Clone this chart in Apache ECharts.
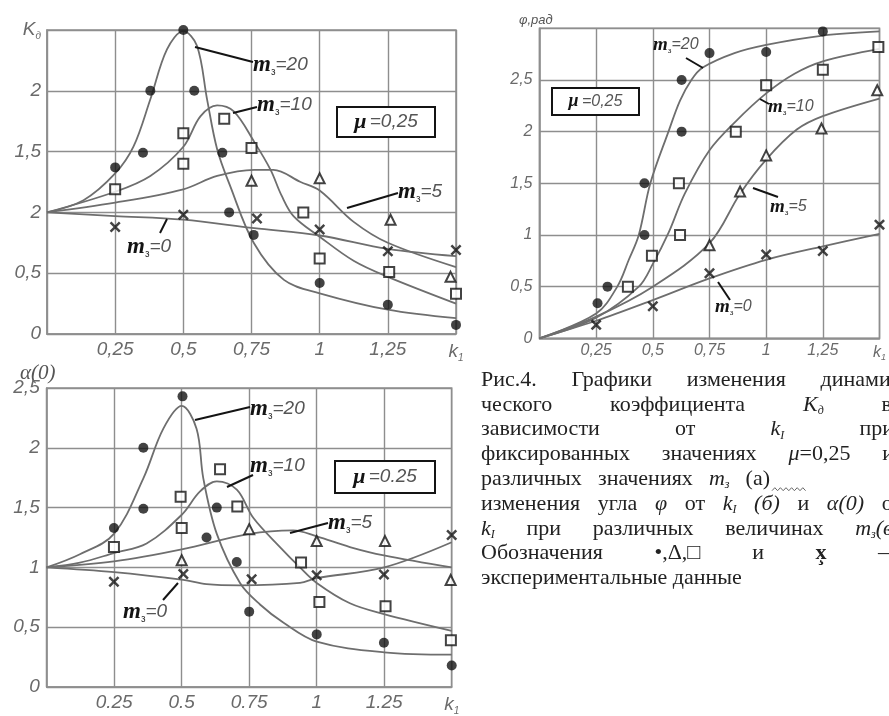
<!DOCTYPE html>
<html><head><meta charset="utf-8">
<script src="https://cdn.jsdelivr.net/npm/echarts@6.0.0/dist/echarts.min.js"></script>
<style>html,body{margin:0;padding:0;background:#fff}#c{width:889px;height:716px}</style>
</head><body><div id="c"></div>
<script>
// ---------- DATA ----------
// (a) K_d vs k1
const a_c20 = [[0,1],[0.134,1.10],[0.25,1.32],[0.317,1.54],[0.379,1.93],[0.44,2.34],[0.5,2.49],[0.55,2.37],[0.587,1.93],[0.624,1.52],[0.673,1.21],[0.758,0.75],[0.869,0.445],[1.0,0.335],[1.25,0.2],[1.5,0.13]];
const a_c10 = [[0,1],[0.25,1.17],[0.379,1.30],[0.5,1.54],[0.5625,1.79],[0.624,1.88],[0.685,1.83],[0.76,1.58],[0.82,1.35],[0.86,1.14],[0.904,0.97],[1.0,0.80],[1.126,0.60],[1.25,0.47],[1.5,0.25]];
const a_c5  = [[0,1],[0.25,1.08],[0.5,1.19],[0.624,1.30],[0.76,1.35],[0.83,1.35],[0.93,1.25],[1.0,1.18],[1.126,0.92],[1.25,0.75],[1.5,0.55]];
const a_c0  = [[0,1],[0.25,0.97],[0.5,0.94],[0.76,0.87],[1.0,0.81],[1.25,0.70],[1.5,0.64]];
const a_p20 = [[0.25,1.37],[0.352,1.49],[0.379,2.0],[0.5,2.5],[0.54,2.0],[0.643,1.49],[0.668,1.0],[0.758,0.815],[1.0,0.42],[1.25,0.24],[1.5,0.075]];
const a_p10 = [[0.25,1.19],[0.5,1.40],[0.5,1.65],[0.65,1.77],[0.75,1.53],[0.94,1.0],[1.0,0.62],[1.255,0.51],[1.5,0.33]];
const a_p5  = [[0.75,1.26],[1.0,1.28],[1.26,0.94],[1.48,0.47]];
const a_p0  = [[0.25,0.88],[0.5,0.98],[0.77,0.95],[1.0,0.86],[1.25,0.68],[1.5,0.69]];
// (b) phi vs k1
const b_c20 = [[0,0],[0.25,0.24],[0.343,0.5],[0.394,0.76],[0.438,1.0],[0.489,1.5],[0.569,2.0],[0.62,2.3],[0.67,2.5],[0.72,2.62],[0.86,2.76],[1.0,2.84],[1.25,2.93],[1.5,2.97]];
const b_c10 = [[0,0],[0.25,0.2],[0.438,0.5],[0.5,0.72],[0.569,1.02],[0.641,1.4],[0.75,1.82],[0.866,2.1],[1.0,2.37],[1.125,2.56],[1.25,2.68],[1.5,2.80]];
const b_c5  = [[0,0],[0.25,0.21],[0.5,0.5],[0.75,0.92],[0.885,1.40],[1.0,1.73],[1.135,2.02],[1.25,2.15],[1.5,2.32]];
const b_c0  = [[0,0],[0.25,0.17],[0.5,0.37],[0.75,0.58],[1.0,0.76],[1.25,0.89],[1.5,1.01]];
const b_p20 = [[0.256,0.34],[0.30,0.50],[0.463,1.0],[0.463,1.5],[0.627,2.0],[0.627,2.5],[0.75,2.76],[1.0,2.77],[1.25,2.97]];
const b_p10 = [[0.39,0.5],[0.496,0.80],[0.62,1.0],[0.615,1.5],[0.866,2.0],[1.0,2.45],[1.25,2.60],[1.495,2.82]];
const b_p5  = [[0.75,0.90],[0.885,1.42],[1.0,1.77],[1.244,2.03],[1.49,2.40]];
const b_p0  = [[0.25,0.13],[0.5,0.31],[0.75,0.63],[1.0,0.81],[1.25,0.845],[1.5,1.10]];
// (c) alpha(0) vs k1
const c_c20 = [[0,1],[0.123,1.11],[0.249,1.28],[0.358,1.745],[0.432,2.16],[0.5,2.35],[0.555,2.16],[0.58,1.745],[0.63,1.28],[0.716,0.87],[0.79,0.69],[0.876,0.54],[1.0,0.38],[1.25,0.29],[1.5,0.27]];
const c_c10 = [[0,1],[0.123,1.04],[0.249,1.12],[0.37,1.2],[0.5,1.44],[0.568,1.635],[0.63,1.72],[0.704,1.65],[0.765,1.415],[0.864,1.17],[0.938,1.0],[1.0,0.87],[1.123,0.70],[1.249,0.61],[1.5,0.47]];
const c_c5  = [[0,1],[0.249,1.05],[0.5,1.15],[0.75,1.28],[0.913,1.31],[1.0,1.26],[1.123,1.17],[1.249,1.10],[1.5,1.0]];
const c_c0  = [[0,1],[0.25,0.96],[0.506,0.895],[0.592,0.86],[0.716,0.85],[0.938,0.87],[1.0,0.91],[1.25,1.0],[1.5,1.21]];
const c_p20 = [[0.249,1.33],[0.358,1.49],[0.358,2.0],[0.503,2.43],[0.592,1.25],[0.63,1.50],[0.704,1.045],[0.75,0.63],[1.0,0.44],[1.249,0.37],[1.5,0.18]];
const c_p10 = [[0.249,1.17],[0.5,1.33],[0.496,1.59],[0.642,1.82],[0.706,1.51],[0.942,1.04],[1.01,0.71],[1.255,0.675],[1.497,0.39]];
const c_p5  = [[0.5,1.06],[0.75,1.32],[1.0,1.22],[1.253,1.22],[1.496,0.895]];
const c_p0  = [[0.249,0.88],[0.506,0.944],[0.759,0.90],[1.0,0.935],[1.249,0.94],[1.5,1.27]];
// tick labels
const xLabelsA = ['', '0,25', '0,5', '0,75', '1', '1,25', 'k_1'];
const xLabelsB = ['', '0,25', '0,5', '0,75', '1', '1,25', 'k_1'];
const xLabelsC = ['', '0.25', '0.5', '0.75', '1', '1.25', 'k_1'];
const yLabelsA = ['0', '0,5', '2', '1,5', '2', 'K_д'];
const yLabelsB = ['0', '0,5', '1', '1,5', '2', '2,5', ''];
const yLabelsC = ['0', '0,5', '1', '1,5', '2', '2,5'];
const mValues = ['20', '10', '5', '0'];
const muTexts = ['0,25', '0,25', '0.25'];

// ---------- STYLE / LAYOUT ----------
const gridC = '#8e8e8e', curveC = '#6e6e6e', labC = '#6a6a6a', ink = '#141414';
const crossPath = 'path://M0,1.6L1.6,0L5,3.4L8.4,0L10,1.6L6.6,5L10,8.4L8.4,10L5,6.6L1.6,10L0,8.4L3.4,5Z';
const symbols = [
  {symbol:'circle', size:10, style:{color:ink}},
  {symbol:'rect', size:10, style:{color:'#fff', borderColor:ink, borderWidth:2}},
  {symbol:'triangle', size:10, style:{color:'#fff', borderColor:ink, borderWidth:2}},
  {symbol:crossPath, size:11, style:{color:ink}}
];
const plots = [
  {curves:[a_c20,a_c10,a_c5,a_c0], points:[a_p20,a_p10,a_p5,a_p0], xl:xLabelsA, yl:yLabelsA, ymax:2.5, fs:19, scale:1,
   grid:{left:47, top:30, width:409, height:304}, xm:6, ym:6},
  {curves:[b_c20,b_c10,b_c5,b_c0], points:[b_p20,b_p10,b_p5,b_p0], xl:xLabelsB, yl:yLabelsB, ymax:3, fs:16, scale:0.82,
   grid:{left:539.5, top:28.3, width:344.5, height:310}, xm:4, ym:7},
  {curves:[c_c20,c_c10,c_c5,c_c0], points:[c_p20,c_p10,c_p5,c_p0], xl:xLabelsC, yl:yLabelsC, ymax:2.5, fs:19, scale:1,
   grid:{left:46.7, top:388, width:405, height:304}, xm:6, ym:7}
];
const annot = [
  {texts:[[253,65],[257,105],[398,192],[127,247]], leaders:[[195,47,253,62],[233,113,257,107],[347,208,398,193],[160,233,167,219]], box:[337,107,98,30]},
  {texts:[[653,45],[768,107],[770,207],[715,307]], leaders:[[686,58,703,68],[760,99,769,104],[753,188,778,197],[718,282,730,300]], box:[552,88,87,27]},
  {texts:[[250,409],[250,466],[328,523],[123,612]], leaders:[[195,420,250,407],[227,487,253,475],[290,533,328,523],[163,600,178,583]], box:[335,461,100,32]}
];

function fmtSub(s){ const k = s.indexOf('_'); return k < 0 ? s : '{m|' + s.slice(0,k) + '}{s|' + s.slice(k+1) + '}'; }
function axisLabel(fs, arr, step, margin){
  return {
    color:labC, fontFamily:'Liberation Sans', fontStyle:'italic', fontSize:fs, margin:margin,
    showMinLabel:true, showMaxLabel:true, hideOverlap:false,
    formatter: v => fmtSub(arr[Math.round(v/step)] || ''),
    rich:{
      m:{color:labC, fontFamily:'Liberation Sans', fontStyle:'italic', fontSize:fs, lineHeight:fs+4},
      s:{color:labC, fontFamily:'Liberation Sans', fontStyle:'italic', fontSize:Math.round(fs*0.55), lineHeight:Math.round(fs*0.6), verticalAlign:'bottom'}
    }
  };
}

const grids = [], xAxes = [], yAxes = [], series = [];
plots.forEach((p, i) => {
  grids.push(Object.assign({show:true, borderColor:gridC, borderWidth:1.5, backgroundColor:'#fff'}, p.grid));
  xAxes.push({type:'value', gridIndex:i, min:0, max:1.5, interval:0.25,
    axisLine:{show:true, lineStyle:{color:gridC, width:1.5}}, axisTick:{show:false},
    splitLine:{show:true, lineStyle:{color:gridC, width:1.4}},
    axisLabel:axisLabel(p.fs, p.xl, 0.25, p.xm)});
  yAxes.push({type:'value', gridIndex:i, min:0, max:p.ymax, interval:0.5,
    axisLine:{show:true, lineStyle:{color:gridC, width:1.5}}, axisTick:{show:false},
    splitLine:{show:true, lineStyle:{color:gridC, width:1.4}},
    axisLabel:axisLabel(p.fs, p.yl, 0.5, p.ym)});
  p.curves.forEach(c => series.push({type:'line', xAxisIndex:i, yAxisIndex:i, data:c, smooth:0.35, showSymbol:false,
    lineStyle:{color:curveC, width:1.8}, z:3, silent:true}));
  p.points.forEach((pt, k) => series.push({type:'scatter', xAxisIndex:i, yAxisIndex:i, data:pt,
    symbol:symbols[k].symbol, symbolSize:symbols[k].size, itemStyle:symbols[k].style, z:5, silent:true}));
});

// ---------- GRAPHIC ANNOTATIONS ----------
const graphic = [];
function mRich(sc){
  return {
    m:{fontFamily:'Liberation Serif', fontStyle:'italic', fontWeight:'bold', fontSize:Math.round(23*sc), fill:ink, lineHeight:Math.round(24*sc)},
    s:{fontFamily:'Liberation Sans', fontSize:Math.round(10*sc), fill:'#333', lineHeight:Math.round(11*sc), verticalAlign:'bottom'},
    e:{fontFamily:'Liberation Sans', fontStyle:'italic', fontSize:Math.round(19*sc), fill:'#555', lineHeight:Math.round(24*sc)},
    u:{fontFamily:'Liberation Serif', fontStyle:'italic', fontWeight:'bold', fontSize:Math.round(22*sc), fill:ink, lineHeight:Math.round(24*sc)}
  };
}
annot.forEach((a, i) => {
  const sc = plots[i].scale;
  a.leaders.forEach(l => graphic.push({type:'line', z:10, shape:{x1:l[0], y1:l[1], x2:l[2], y2:l[3]}, style:{stroke:ink, lineWidth:2}}));
  a.texts.forEach((t, k) => graphic.push({type:'text', z:11, x:t[0], y:t[1],
    style:{text:'{m|m}{s|з}{e|=' + mValues[k] + '}', rich:mRich(sc), align:'left', verticalAlign:'middle', textAlign:'left', textVerticalAlign:'middle'}}));
  const b = a.box;
  graphic.push({type:'rect', z:10, shape:{x:b[0], y:b[1], width:b[2], height:b[3]}, style:{fill:'#fff', stroke:ink, lineWidth:2}});
  graphic.push({type:'text', z:11, x:b[0] + b[2]/2, y:b[1] + b[3]/2,
    style:{text:'{u|μ} {e|=' + muTexts[i] + '}', rich:mRich(sc), align:'center', verticalAlign:'middle', textAlign:'center', textVerticalAlign:'middle'}});
});
// axis titles
graphic.push({type:'text', x:20, y:373, style:{text:'α(0)', fontFamily:'Liberation Serif', fontStyle:'italic', fontSize:21, fill:'#555', verticalAlign:'middle', textVerticalAlign:'middle'}});
graphic.push({type:'text', x:519, y:20, style:{text:'φ,рад', fontFamily:'Liberation Sans', fontStyle:'italic', fontSize:13, fill:'#555', verticalAlign:'middle', textVerticalAlign:'middle'}});

// ---------- CAPTION ----------
const capLines = [
  ['Рис.4.', 'Графики', 'изменения', 'динами-'],
  ['ческого', 'коэффициента', '{i|K}{s|д}', 'в'],
  ['зависимости', 'от', '{i|k}{s|I}', 'при'],
  ['фиксированных', 'значениях', '{i|μ}=0,25', 'и'],
  ['различных', 'значениях', '{i|m}{s|з}', '(а)'],
  ['изменения', 'угла', '{i|φ}', 'от', '{i|k}{s|I}', '{i|(б)}', 'и', '{i|α(0)}', 'от'],
  ['{i|k}{s|I}', 'при', 'различных', 'величинах', '{i|m}{s|з}{i|(в)}'],
  ['Обозначения', '•,Δ,□', 'и', '{b|x̧}', '–'],
  ['экспериментальные', 'данные']
];
const capRight = [898, 892, 894, 894, 770, 902, 900, 889, null];
const capFS = 22, capLeft = 481, capTop = 380, capStep = 24.8;
const capStyles = {
  r:{fontFamily:'Liberation Serif', fontSize:capFS, fontStyle:'normal', fontWeight:'normal', fill:'#222', lineHeight:24},
  i:{fontFamily:'Liberation Serif', fontSize:capFS, fontStyle:'italic', fontWeight:'normal', fill:'#222', lineHeight:24},
  s:{fontFamily:'Liberation Serif', fontSize:12, fontStyle:'italic', fontWeight:'normal', fill:'#222', lineHeight:13, verticalAlign:'bottom'},
  b:{fontFamily:'Liberation Serif', fontSize:capFS, fontStyle:'normal', fontWeight:'bold', fill:'#222', lineHeight:24}
};
const mctx = document.createElement('canvas').getContext('2d');
function parseWord(w){ const segs = []; const re = /\{(\w)\|([^}]*)\}|([^{]+)/g; let m;
  while ((m = re.exec(w))) { if (m[1]) segs.push([m[1], m[2]]); else segs.push(['r', m[3]]); } return segs; }
function measure(segs){ let w = 0; segs.forEach(([st, t]) => { const s = capStyles[st];
  mctx.font = s.fontStyle + ' ' + s.fontWeight + ' ' + s.fontSize + 'px "' + s.fontFamily + '"'; w += mctx.measureText(t).width; }); return w; }
capLines.forEach((words, li) => {
  const segs = words.map(parseWord), widths = segs.map(measure);
  const total = widths.reduce((a, b) => a + b, 0);
  const R = capRight[li];
  const gap = (R && words.length > 1) ? (R - capLeft - total) / (words.length - 1) : capFS * 0.25;
  let x = capLeft; const y = capTop + li * capStep;
  segs.forEach((sg, k) => {
    graphic.push({type:'text', z:12, x:x, y:y, style:{text: sg.map(([st, t]) => '{' + st + '|' + t + '}').join(''), rich:capStyles,
      align:'left', verticalAlign:'middle', textAlign:'left', textVerticalAlign:'middle'}});
    x += widths[k] + gap;
  });
  if (li === 4) { // wavy underline after "(а)"
    const pts = []; const x0 = R + 2; for (let j = 0; j <= 12; j++) pts.push([x0 + j * 2.8, y + 10 + (j % 2 ? -1.5 : 1.5)]);
    graphic.push({type:'polyline', z:12, shape:{points:pts}, style:{stroke:'#666', lineWidth:1, fill:null}});
  }
});

const chart = echarts.init(document.getElementById('c'), null, {renderer:'canvas'});
chart.setOption({animation:false, backgroundColor:'#fff', grid:grids, xAxis:xAxes, yAxis:yAxes, series:series, graphic:graphic});
</script></body></html>
